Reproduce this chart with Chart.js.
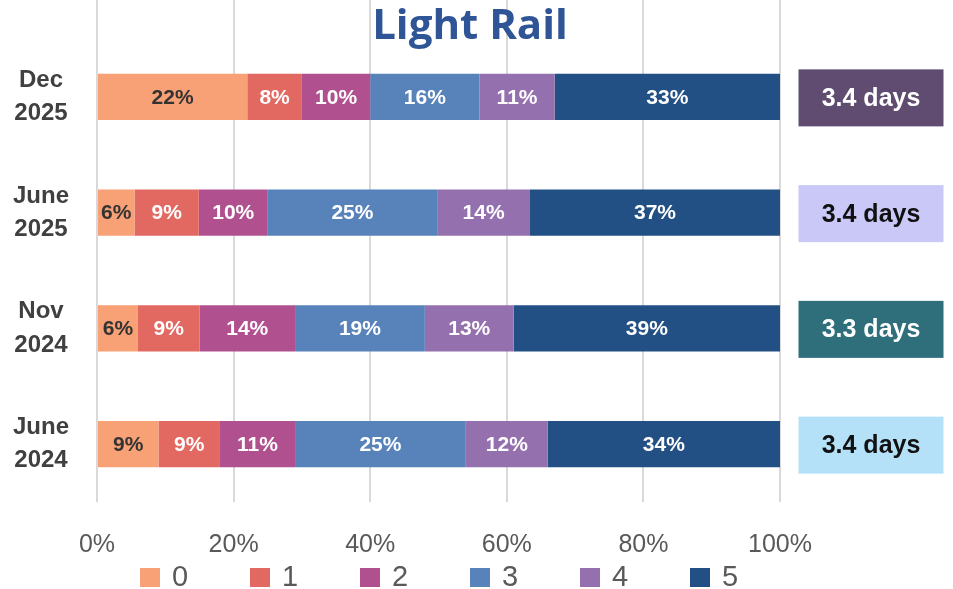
<!DOCTYPE html>
<html>
<head>
<meta charset="utf-8">
<script src="https://cdn.jsdelivr.net/npm/chart.js@4"></script>
<style>
  html, body { margin: 0; padding: 0; background: #fff; }
  #wrap { width: 953px; height: 589px; position: relative; }
</style>
</head>
<body>
<div id="wrap"><canvas id="myChart"></canvas></div>
<script>
// survey waves (top to bottom)
const periods = [['Dec', '2025'], ['June', '2025'], ['Nov', '2024'], ['June', '2024']];
// days per week, share of riders (%)
const days0 = [22, 5.5, 6, 9];
const days1 = [8, 9.4, 9, 9];
const days2 = [10, 10.1, 14, 11];
const days3 = [16, 24.8, 19, 25];
const days4 = [11, 13.6, 13, 12];
const days5 = [33, 36.6, 39, 34];
const seriesNames = ['0', '1', '2', '3', '4', '5'];
const seriesColors = ['#F9A176', '#E26862', '#B0508F', '#5882BA', '#9570AE', '#235084'];
const xTicks = [0, 20, 40, 60, 80, 100];
// average days shown in the boxes on the right
const avgDays = ['3.4 days', '3.4 days', '3.3 days', '3.4 days'];
const avgBoxColors = ['#5F4C70', '#C9C8F7', '#2F6F7C', '#B5E1F8'];
const avgTextColors = ['#ffffff', '#111111', '#ffffff', '#111111'];

const allSeries = [days0, days1, days2, days3, days4, days5];

const data = {
  labels: periods,
  datasets: allSeries.map((vals, i) => ({
    label: seriesNames[i],
    data: vals,
    backgroundColor: seriesColors[i],
    borderWidth: 0,
    barPercentage: 0.4,
    categoryPercentage: 1.0
  }))
};

// percentage text inside each segment
const segmentLabels = {
  id: 'segmentLabels',
  afterDatasetsDraw(chart) {
    const ctx = chart.ctx;
    ctx.save();
    ctx.font = 'bold 21px "Liberation Sans", Arial, sans-serif';
    ctx.textAlign = 'center';
    ctx.textBaseline = 'middle';
    chart.data.datasets.forEach((ds, i) => {
      chart.getDatasetMeta(i).data.forEach((bar, j) => {
        const cx = (bar.x + bar.base) / 2;
        ctx.fillStyle = i === 0 ? '#333333' : '#ffffff';
        ctx.fillText(Math.round(ds.data[j]) + '%', cx, bar.y + 1);
      });
    });
    ctx.restore();
  }
};

// title, grid above the plot, average-days boxes and the legend row
const extras = {
  id: 'extras',
  beforeDatasetsDraw(chart) {
    const ctx = chart.ctx;
    const xs = chart.scales.x;
    ctx.save();
    ctx.strokeStyle = '#d9d9d9';
    ctx.lineWidth = 2;
    xTicks.forEach(t => {
      const px = Math.round(xs.getPixelForValue(t));
      ctx.beginPath();
      ctx.moveTo(px, 0);
      ctx.lineTo(px, chart.chartArea.top);
      ctx.stroke();
    });
    ctx.restore();
  },
  afterDraw(chart) {
    const ctx = chart.ctx;
    const ys = chart.scales.y;
    const area = chart.chartArea;
    ctx.save();
    ctx.font = 'bold 42px "Open Sans", sans-serif';
    ctx.fillStyle = '#2F5597';
    ctx.textAlign = 'center';
    ctx.textBaseline = 'middle';
    ctx.fillText('Light Rail', 470, 27);

    const boxW = 145, boxH = 57;
    avgDays.forEach((txt, i) => {
      const cy = ys.getPixelForValue(i);
      const cx = area.right + 91;
      ctx.fillStyle = avgBoxColors[i];
      ctx.fillRect(cx - boxW / 2, cy - boxH / 2 + 1, boxW, boxH);
      ctx.fillStyle = avgTextColors[i];
      ctx.font = 'bold 25px "Liberation Sans", Arial, sans-serif';
      ctx.fillText(txt, cx, cy + 2);
    });

    // legend
    ctx.textAlign = 'left';
    ctx.font = '29px "Liberation Sans", Arial, sans-serif';
    seriesNames.forEach((name, i) => {
      const x = 140 + i * 110;
      const y = 577;
      ctx.fillStyle = seriesColors[i];
      ctx.fillRect(x, y - 9, 20, 19);
      ctx.fillStyle = '#595959';
      ctx.fillText(name, x + 32, y + 1);
    });
    ctx.restore();
  }
};

new Chart(document.getElementById('myChart'), {
  type: 'bar',
  data: data,
  plugins: [segmentLabels, extras],
  options: {
    indexAxis: 'y',
    responsive: true,
    maintainAspectRatio: false,
    animation: false,
    layout: { padding: { top: 39, right: 173, left: 0, bottom: 0 } },
    scales: {
      x: {
        stacked: true,
        min: 0,
        max: 100,
        afterBuildTicks(axis) { axis.ticks = xTicks.map(v => ({ value: v })); },
        afterFit(axis) { axis.height = 87; },
        border: { display: false },
        grid: { color: '#d9d9d9', lineWidth: 2, drawTicks: false },
        ticks: {
          padding: 28,
          color: '#595959',
          font: { size: 25, family: '"Liberation Sans", Arial, sans-serif' },
          callback: v => v + '%'
        }
      },
      y: {
        stacked: true,
        afterFit(axis) {
          axis.width = 97;
          axis.paddingTop = 0;
          axis.paddingBottom = 0;
        },
        border: { display: false },
        grid: { display: false },
        ticks: {
          padding: 20,
          crossAlign: 'center',
          color: '#404040',
          font: { size: 24, weight: 'bold', family: '"Liberation Sans", Arial, sans-serif', lineHeight: 1.38 }
        }
      }
    },
    plugins: {
      title: { display: false },
      tooltip: { enabled: false },
      legend: { display: false }
    }
  }
});
</script>
</body>
</html>
